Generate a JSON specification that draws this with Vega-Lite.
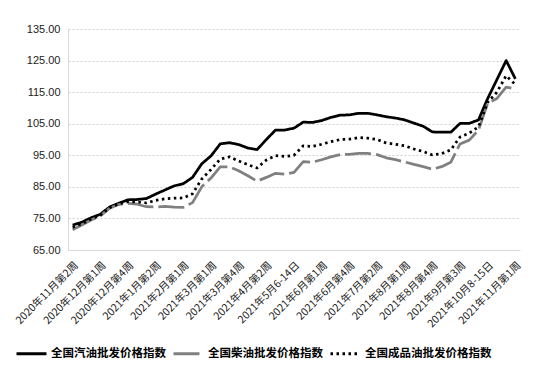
{
  "$schema": "https://vega.github.io/schema/vega-lite/v6.json",
  "width": 452,
  "height": 221,
  "autosize": {"type": "none"},
  "padding": {"left": 68, "top": 29, "right": 14, "bottom": 129},
  "background": "#ffffff",
  "config": {
    "view": {"stroke": null},
    "font": "Noto Sans CJK SC"
  },
  "data": {
    "values": [
      {"week": "2020年11月第2周", "series": "全国汽油批发价格指数", "value": 72.9},
      {"week": "2020年11月第3周", "series": "全国汽油批发价格指数", "value": 73.8},
      {"week": "2020年11月第4周", "series": "全国汽油批发价格指数", "value": 75.2},
      {"week": "2020年12月第1周", "series": "全国汽油批发价格指数", "value": 76.3},
      {"week": "2020年12月第2周", "series": "全国汽油批发价格指数", "value": 78.6},
      {"week": "2020年12月第3周", "series": "全国汽油批发价格指数", "value": 79.8},
      {"week": "2020年12月第4周", "series": "全国汽油批发价格指数", "value": 80.9},
      {"week": "2020年12月第5周", "series": "全国汽油批发价格指数", "value": 81.0},
      {"week": "2021年1月第1周", "series": "全国汽油批发价格指数", "value": 81.3},
      {"week": "2021年1月第2周", "series": "全国汽油批发价格指数", "value": 82.7},
      {"week": "2021年1月第3周", "series": "全国汽油批发价格指数", "value": 84.0},
      {"week": "2021年1月第4周", "series": "全国汽油批发价格指数", "value": 85.3},
      {"week": "2021年2月第1周", "series": "全国汽油批发价格指数", "value": 86.0},
      {"week": "2021年2月第2周", "series": "全国汽油批发价格指数", "value": 88.0},
      {"week": "2021年2月第3周", "series": "全国汽油批发价格指数", "value": 92.3},
      {"week": "2021年3月第1周", "series": "全国汽油批发价格指数", "value": 94.8},
      {"week": "2021年3月第2周", "series": "全国汽油批发价格指数", "value": 98.6},
      {"week": "2021年3月第3周", "series": "全国汽油批发价格指数", "value": 99.0},
      {"week": "2021年3月第4周", "series": "全国汽油批发价格指数", "value": 98.4},
      {"week": "2021年3月第5周", "series": "全国汽油批发价格指数", "value": 97.3},
      {"week": "2021年4月第1周", "series": "全国汽油批发价格指数", "value": 96.8},
      {"week": "2021年4月第2周", "series": "全国汽油批发价格指数", "value": 100.0},
      {"week": "2021年4月第3周", "series": "全国汽油批发价格指数", "value": 103.0},
      {"week": "2021年4月第4周", "series": "全国汽油批发价格指数", "value": 103.0},
      {"week": "2021年5月6-14日", "series": "全国汽油批发价格指数", "value": 103.6},
      {"week": "2021年5月第3周", "series": "全国汽油批发价格指数", "value": 105.5},
      {"week": "2021年5月第4周", "series": "全国汽油批发价格指数", "value": 105.4},
      {"week": "2021年6月第1周", "series": "全国汽油批发价格指数", "value": 106.0},
      {"week": "2021年6月第2周", "series": "全国汽油批发价格指数", "value": 107.0},
      {"week": "2021年6月第3周", "series": "全国汽油批发价格指数", "value": 107.7},
      {"week": "2021年6月第4周", "series": "全国汽油批发价格指数", "value": 107.8},
      {"week": "2021年6月第5周", "series": "全国汽油批发价格指数", "value": 108.3},
      {"week": "2021年7月第1周", "series": "全国汽油批发价格指数", "value": 108.3},
      {"week": "2021年7月第2周", "series": "全国汽油批发价格指数", "value": 107.8},
      {"week": "2021年7月第3周", "series": "全国汽油批发价格指数", "value": 107.2},
      {"week": "2021年7月第4周", "series": "全国汽油批发价格指数", "value": 106.8},
      {"week": "2021年8月第1周", "series": "全国汽油批发价格指数", "value": 106.2},
      {"week": "2021年8月第2周", "series": "全国汽油批发价格指数", "value": 105.2},
      {"week": "2021年8月第3周", "series": "全国汽油批发价格指数", "value": 104.2},
      {"week": "2021年8月第4周", "series": "全国汽油批发价格指数", "value": 102.4},
      {"week": "2021年9月第1周", "series": "全国汽油批发价格指数", "value": 102.3},
      {"week": "2021年9月第2周", "series": "全国汽油批发价格指数", "value": 102.3},
      {"week": "2021年9月第3周", "series": "全国汽油批发价格指数", "value": 105.1},
      {"week": "2021年9月第4周", "series": "全国汽油批发价格指数", "value": 105.1},
      {"week": "2021年10月第1周", "series": "全国汽油批发价格指数", "value": 106.2},
      {"week": "2021年10月8-15日", "series": "全国汽油批发价格指数", "value": 113.0},
      {"week": "2021年10月第3周", "series": "全国汽油批发价格指数", "value": 119.0},
      {"week": "2021年10月第4周", "series": "全国汽油批发价格指数", "value": 125.0},
      {"week": "2021年11月第1周", "series": "全国汽油批发价格指数", "value": 119.2},

      {"week": "2020年11月第2周", "series": "全国柴油批发价格指数", "value": 71.4},
      {"week": "2020年11月第3周", "series": "全国柴油批发价格指数", "value": 72.9},
      {"week": "2020年11月第4周", "series": "全国柴油批发价格指数", "value": 74.5},
      {"week": "2020年12月第1周", "series": "全国柴油批发价格指数", "value": 75.8},
      {"week": "2020年12月第2周", "series": "全国柴油批发价格指数", "value": 78.2},
      {"week": "2020年12月第3周", "series": "全国柴油批发价格指数", "value": 79.4},
      {"week": "2020年12月第4周", "series": "全国柴油批发价格指数", "value": 79.8},
      {"week": "2020年12月第5周", "series": "全国柴油批发价格指数", "value": 79.5},
      {"week": "2021年1月第1周", "series": "全国柴油批发价格指数", "value": 78.7},
      {"week": "2021年1月第2周", "series": "全国柴油批发价格指数", "value": 78.6},
      {"week": "2021年1月第3周", "series": "全国柴油批发价格指数", "value": 78.8},
      {"week": "2021年1月第4周", "series": "全国柴油批发价格指数", "value": 78.6},
      {"week": "2021年2月第1周", "series": "全国柴油批发价格指数", "value": 78.5},
      {"week": "2021年2月第2周", "series": "全国柴油批发价格指数", "value": 80.0},
      {"week": "2021年2月第3周", "series": "全国柴油批发价格指数", "value": 85.0},
      {"week": "2021年3月第1周", "series": "全国柴油批发价格指数", "value": 87.8},
      {"week": "2021年3月第2周", "series": "全国柴油批发价格指数", "value": 91.3},
      {"week": "2021年3月第3周", "series": "全国柴油批发价格指数", "value": 91.3},
      {"week": "2021年3月第4周", "series": "全国柴油批发价格指数", "value": 90.1},
      {"week": "2021年3月第5周", "series": "全国柴油批发价格指数", "value": 88.5},
      {"week": "2021年4月第1周", "series": "全国柴油批发价格指数", "value": 86.8},
      {"week": "2021年4月第2周", "series": "全国柴油批发价格指数", "value": 88.0},
      {"week": "2021年4月第3周", "series": "全国柴油批发价格指数", "value": 89.3},
      {"week": "2021年4月第4周", "series": "全国柴油批发价格指数", "value": 89.0},
      {"week": "2021年5月6-14日", "series": "全国柴油批发价格指数", "value": 89.6},
      {"week": "2021年5月第3周", "series": "全国柴油批发价格指数", "value": 93.0},
      {"week": "2021年5月第4周", "series": "全国柴油批发价格指数", "value": 92.8},
      {"week": "2021年6月第1周", "series": "全国柴油批发价格指数", "value": 93.6},
      {"week": "2021年6月第2周", "series": "全国柴油批发价格指数", "value": 94.5},
      {"week": "2021年6月第3周", "series": "全国柴油批发价格指数", "value": 95.2},
      {"week": "2021年6月第4周", "series": "全国柴油批发价格指数", "value": 95.3},
      {"week": "2021年6月第5周", "series": "全国柴油批发价格指数", "value": 95.6},
      {"week": "2021年7月第1周", "series": "全国柴油批发价格指数", "value": 95.6},
      {"week": "2021年7月第2周", "series": "全国柴油批发价格指数", "value": 95.2},
      {"week": "2021年7月第3周", "series": "全国柴油批发价格指数", "value": 94.2},
      {"week": "2021年7月第4周", "series": "全国柴油批发价格指数", "value": 93.6},
      {"week": "2021年8月第1周", "series": "全国柴油批发价格指数", "value": 92.9},
      {"week": "2021年8月第2周", "series": "全国柴油批发价格指数", "value": 92.1},
      {"week": "2021年8月第3周", "series": "全国柴油批发价格指数", "value": 91.4},
      {"week": "2021年8月第4周", "series": "全国柴油批发价格指数", "value": 90.6},
      {"week": "2021年9月第1周", "series": "全国柴油批发价格指数", "value": 91.4},
      {"week": "2021年9月第2周", "series": "全国柴油批发价格指数", "value": 92.8},
      {"week": "2021年9月第3周", "series": "全国柴油批发价格指数", "value": 98.6},
      {"week": "2021年9月第4周", "series": "全国柴油批发价格指数", "value": 99.8},
      {"week": "2021年10月第1周", "series": "全国柴油批发价格指数", "value": 103.0},
      {"week": "2021年10月8-15日", "series": "全国柴油批发价格指数", "value": 111.5},
      {"week": "2021年10月第3周", "series": "全国柴油批发价格指数", "value": 113.0},
      {"week": "2021年10月第4周", "series": "全国柴油批发价格指数", "value": 116.6},
      {"week": "2021年11月第1周", "series": "全国柴油批发价格指数", "value": 116.0},

      {"week": "2020年11月第2周", "series": "全国成品油批发价格指数", "value": 72.2},
      {"week": "2020年11月第3周", "series": "全国成品油批发价格指数", "value": 73.3},
      {"week": "2020年11月第4周", "series": "全国成品油批发价格指数", "value": 74.8},
      {"week": "2020年12月第1周", "series": "全国成品油批发价格指数", "value": 76.0},
      {"week": "2020年12月第2周", "series": "全国成品油批发价格指数", "value": 78.4},
      {"week": "2020年12月第3周", "series": "全国成品油批发价格指数", "value": 79.6},
      {"week": "2020年12月第4周", "series": "全国成品油批发价格指数", "value": 80.3},
      {"week": "2020年12月第5周", "series": "全国成品油批发价格指数", "value": 80.2},
      {"week": "2021年1月第1周", "series": "全国成品油批发价格指数", "value": 79.9},
      {"week": "2021年1月第2周", "series": "全国成品油批发价格指数", "value": 80.7},
      {"week": "2021年1月第3周", "series": "全国成品油批发价格指数", "value": 81.2},
      {"week": "2021年1月第4周", "series": "全国成品油批发价格指数", "value": 81.4},
      {"week": "2021年2月第1周", "series": "全国成品油批发价格指数", "value": 81.5},
      {"week": "2021年2月第2周", "series": "全国成品油批发价格指数", "value": 82.8},
      {"week": "2021年2月第3周", "series": "全国成品油批发价格指数", "value": 87.5},
      {"week": "2021年3月第1周", "series": "全国成品油批发价格指数", "value": 90.5},
      {"week": "2021年3月第2周", "series": "全国成品油批发价格指数", "value": 93.8},
      {"week": "2021年3月第3周", "series": "全国成品油批发价格指数", "value": 94.5},
      {"week": "2021年3月第4周", "series": "全国成品油批发价格指数", "value": 93.2},
      {"week": "2021年3月第5周", "series": "全国成品油批发价格指数", "value": 92.0},
      {"week": "2021年4月第1周", "series": "全国成品油批发价格指数", "value": 91.0},
      {"week": "2021年4月第2周", "series": "全国成品油批发价格指数", "value": 93.5},
      {"week": "2021年4月第3周", "series": "全国成品油批发价格指数", "value": 94.9},
      {"week": "2021年4月第4周", "series": "全国成品油批发价格指数", "value": 94.6},
      {"week": "2021年5月6-14日", "series": "全国成品油批发价格指数", "value": 95.0},
      {"week": "2021年5月第3周", "series": "全国成品油批发价格指数", "value": 98.0},
      {"week": "2021年5月第4周", "series": "全国成品油批发价格指数", "value": 97.8},
      {"week": "2021年6月第1周", "series": "全国成品油批发价格指数", "value": 98.5},
      {"week": "2021年6月第2周", "series": "全国成品油批发价格指数", "value": 99.3},
      {"week": "2021年6月第3周", "series": "全国成品油批发价格指数", "value": 100.0},
      {"week": "2021年6月第4周", "series": "全国成品油批发价格指数", "value": 100.1},
      {"week": "2021年6月第5周", "series": "全国成品油批发价格指数", "value": 100.6},
      {"week": "2021年7月第1周", "series": "全国成品油批发价格指数", "value": 100.4},
      {"week": "2021年7月第2周", "series": "全国成品油批发价格指数", "value": 100.0},
      {"week": "2021年7月第3周", "series": "全国成品油批发价格指数", "value": 98.9},
      {"week": "2021年7月第4周", "series": "全国成品油批发价格指数", "value": 98.5},
      {"week": "2021年8月第1周", "series": "全国成品油批发价格指数", "value": 98.0},
      {"week": "2021年8月第2周", "series": "全国成品油批发价格指数", "value": 97.0},
      {"week": "2021年8月第3周", "series": "全国成品油批发价格指数", "value": 96.2},
      {"week": "2021年8月第4周", "series": "全国成品油批发价格指数", "value": 95.1},
      {"week": "2021年9月第1周", "series": "全国成品油批发价格指数", "value": 95.5},
      {"week": "2021年9月第2周", "series": "全国成品油批发价格指数", "value": 96.7},
      {"week": "2021年9月第3周", "series": "全国成品油批发价格指数", "value": 100.8},
      {"week": "2021年9月第4周", "series": "全国成品油批发价格指数", "value": 102.0},
      {"week": "2021年10月第1周", "series": "全国成品油批发价格指数", "value": 104.0},
      {"week": "2021年10月8-15日", "series": "全国成品油批发价格指数", "value": 111.8},
      {"week": "2021年10月第3周", "series": "全国成品油批发价格指数", "value": 115.0},
      {"week": "2021年10月第4周", "series": "全国成品油批发价格指数", "value": 120.2},
      {"week": "2021年11月第1周", "series": "全国成品油批发价格指数", "value": 117.4}
    ]
  },
  "mark": {"type": "line", "strokeWidth": 2.75, "strokeCap": "butt", "strokeJoin": "round"},
  "encoding": {
    "x": {
      "field": "week",
      "type": "ordinal",
      "sort": null,
      "scale": {"type": "point", "padding": 0.5},
      "axis": {
        "title": null,
        "values": ["2020年11月第2周", "2020年12月第1周", "2020年12月第4周", "2021年1月第2周", "2021年2月第1周", "2021年3月第1周", "2021年3月第4周", "2021年4月第2周", "2021年5月6-14日", "2021年6月第1周", "2021年6月第4周", "2021年7月第2周", "2021年8月第1周", "2021年8月第4周", "2021年9月第3周", "2021年10月8-15日", "2021年11月第1周"],
        "labelAngle": -45,
        "labelAlign": "right",
        "labelBaseline": "top",
        "labelFontSize": 10.5,
        "labelColor": "#222222",
        "labelPadding": 10,
        "labelOverlap": false,
        "ticks": false,
        "domainColor": "#d9d9d9",
        "domainWidth": 1,
        "grid": false
      }
    },
    "y": {
      "field": "value",
      "type": "quantitative",
      "scale": {"domain": [65, 135], "nice": false, "zero": false},
      "axis": {
        "title": null,
        "values": [65, 75, 85, 95, 105, 115, 125, 135],
        "format": ".2f",
        "labelFont": "Liberation Sans",
        "labelFontSize": 11,
        "labelColor": "#222222",
        "labelPadding": 8,
        "ticks": false,
        "domainColor": "#d9d9d9",
        "grid": true,
        "gridColor": "#cfcfcf",
        "gridDash": [2, 2],
        "gridWidth": 1
      }
    },
    "color": {
      "field": "series",
      "type": "nominal",
      "scale": {
        "domain": ["全国汽油批发价格指数", "全国柴油批发价格指数", "全国成品油批发价格指数"],
        "range": ["#000000", "#808080", "#000000"]
      },
      "legend": {
        "title": null,
        "orient": "none",
        "direction": "horizontal",
        "legendX": -53,
        "legendY": 308,
        "labelFontSize": 11.5,
        "labelFontWeight": "bold",
        "labelColor": "#000000",
        "labelOffset": 3,
        "columnPadding": 1,
        "symbolType": "stroke",
        "symbolSize": 900,
        "symbolStrokeWidth": 3,
        "labelLimit": 200
      }
    },
    "strokeDash": {
      "field": "series",
      "type": "nominal",
      "scale": {
        "domain": ["全国汽油批发价格指数", "全国柴油批发价格指数", "全国成品油批发价格指数"],
        "range": [[1, 0], [26, 5], [2.5, 3.5]]
      },
      "legend": {
        "title": null,
        "orient": "none",
        "direction": "horizontal",
        "legendX": -53,
        "legendY": 308,
        "labelFontSize": 11.5,
        "labelFontWeight": "bold",
        "labelColor": "#000000",
        "labelOffset": 3,
        "columnPadding": 1,
        "symbolType": "stroke",
        "symbolSize": 900,
        "symbolStrokeWidth": 3,
        "labelLimit": 200
      }
    }
  }
}
